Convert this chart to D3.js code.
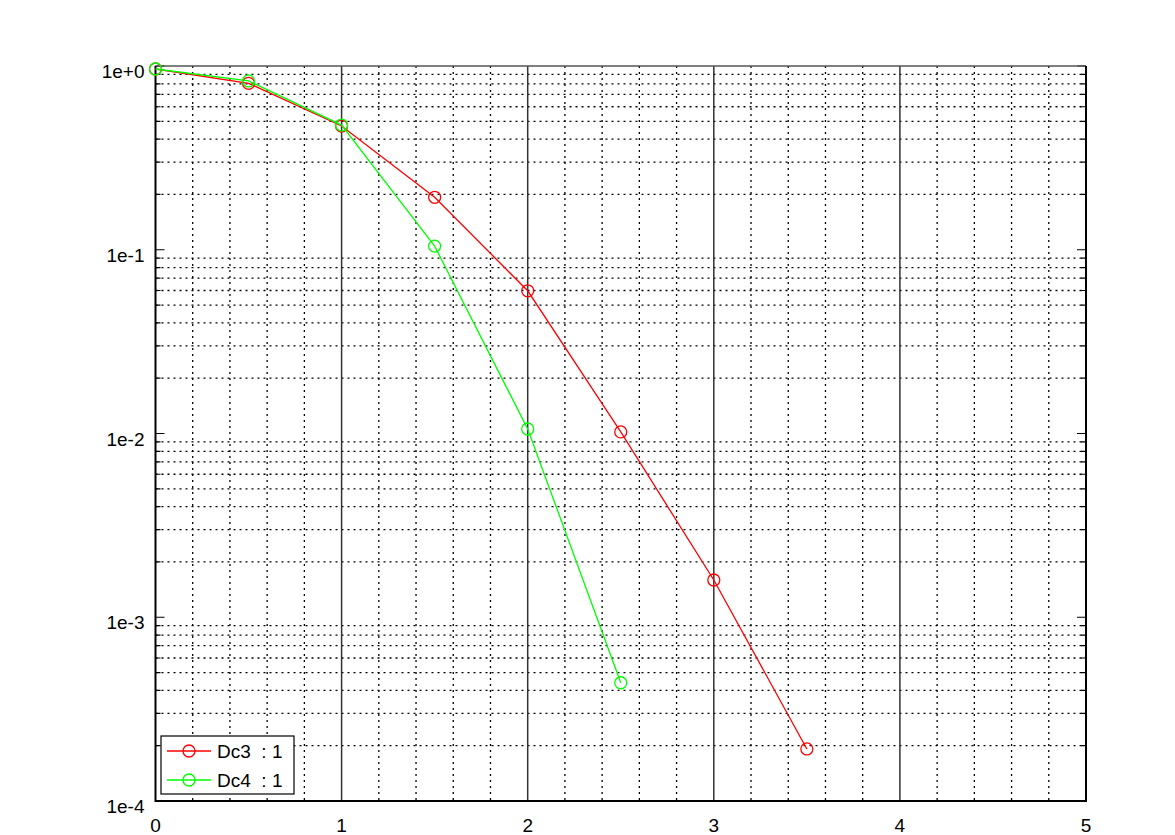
<!DOCTYPE html>
<html>
<head>
<meta charset="utf-8">
<script src="https://cdn.jsdelivr.net/npm/d3@7"></script>
<style>
  body { margin: 0; background: #fff; }
  svg { display: block; }
  text { font-family: "Liberation Sans", Arial, sans-serif; }
</style>
</head>
<body>
<svg></svg>
<script>
const xValues = [0, 0.5, 1, 1.5, 2, 2.5, 3, 3.5];
const dc3 = [0.963, 0.805, 0.4715, 0.193, 0.0598, 0.0102, 0.001595, 0.000192];
const dc4 = [0.963, 0.829, 0.477, 0.1047, 0.01058, 0.00044];
const seriesNames = ["Dc3  : 1", "Dc4  : 1"];
const seriesColors = ["#ff0000", "#00ff00"];
const xTicks = [0, 1, 2, 3, 4, 5];
const yTicks = [1, 1e-1, 1e-2, 1e-3, 1e-4];
const yTickLabels = ["1e+0", "1e-1", "1e-2", "1e-3", "1e-4"];

const W = 1175, H = 835;
const plotLeft = 155.5, plotRight = 1086, plotTop = 66, plotBottom = 801;

const svg = d3.select("svg").attr("width", W).attr("height", H);

const x = d3.scaleLinear().domain([0, 5]).range([plotLeft, plotRight]);
const y = d3.scaleLog().domain([1e-4, 1]).range([plotBottom, plotTop]);

// minor grid values
const xMinor = d3.range(0, 5.0001, 0.2).filter(v => Math.abs(v - Math.round(v)) > 1e-6);
const yMinor = [];
for (let e = -4; e < 0; e++) for (let m = 2; m <= 9; m++) yMinor.push(m * Math.pow(10, e));

const grid = svg.append("g");

grid.selectAll(".ygrid").data(yMinor).enter().append("line")
    .attr("x1", plotLeft).attr("x2", plotRight)
    .attr("y1", d => y(d)).attr("y2", d => y(d))
    .attr("stroke", "#000").attr("stroke-width", 1.3)
    .attr("stroke-dasharray", "2,4");

grid.selectAll(".xgrid").data(xMinor).enter().append("line")
    .attr("x1", d => x(d)).attr("x2", d => x(d))
    .attr("y1", plotTop).attr("y2", plotBottom)
    .attr("stroke", "#000").attr("stroke-width", 1.3)
    .attr("stroke-dasharray", "2,4");

grid.selectAll(".xmajor").data(xTicks.slice(1, -1)).enter().append("line")
    .attr("x1", d => x(d)).attr("x2", d => x(d))
    .attr("y1", plotTop).attr("y2", plotBottom)
    .attr("stroke", "#333").attr("stroke-width", 1.5);

// ticks on left and right
const ticks = svg.append("g").attr("stroke", "#000").attr("stroke-width", 1.2);
ticks.selectAll(".ymin").data(yMinor).enter().append("path")
    .attr("d", d => `M${plotLeft},${y(d)}h5M${plotRight},${y(d)}h-5`);
ticks.selectAll(".ymaj").data(yTicks).enter().append("path")
    .attr("d", d => `M${plotLeft},${y(d)}h9M${plotRight},${y(d)}h-9`);

// frame
svg.append("line").attr("x1", plotLeft).attr("x2", plotRight).attr("y1", plotTop).attr("y2", plotTop)
    .attr("stroke", "#555").attr("stroke-width", 1.5);
svg.append("path")
    .attr("d", `M${plotLeft},${plotTop}V${plotBottom}H${plotRight}V${plotTop}`)
    .attr("fill", "none").attr("stroke", "#000").attr("stroke-width", 2);

// tick labels
svg.selectAll(".ylab").data(yTicks).enter().append("text")
    .attr("x", plotLeft - 11).attr("y", (d) => y(d) + 12)
    .attr("text-anchor", "end").attr("font-size", 19)
    .text((d, i) => yTickLabels[i]);

svg.selectAll(".xlab").data(xTicks).enter().append("text")
    .attr("x", d => x(d)).attr("y", 832)
    .attr("text-anchor", "middle").attr("font-size", 19)
    .text(d => d);

// series
const series = [dc3, dc4];
const line = d3.line().x((d, i) => x(xValues[i])).y(d => y(d));

series.forEach(function(s, k) {
  svg.append("path").datum(s)
      .attr("d", line)
      .attr("fill", "none").attr("stroke", seriesColors[k]).attr("stroke-width", 1.3);
  svg.selectAll(".pt" + k).data(s).enter().append("circle")
      .attr("cx", (d, i) => x(xValues[i])).attr("cy", d => y(d))
      .attr("r", 6).attr("fill", "none")
      .attr("stroke", seriesColors[k]).attr("stroke-width", 1.3);
});

// legend
const legend = svg.append("g").attr("transform", "translate(161,736)");
legend.append("rect").attr("width", 133).attr("height", 58)
    .attr("fill", "#fff").attr("stroke", "#000").attr("stroke-width", 1.2);
seriesNames.forEach(function(name, k) {
  const ly = 15 + k * 29;
  legend.append("line").attr("x1", 6).attr("x2", 50).attr("y1", ly).attr("y2", ly)
      .attr("stroke", seriesColors[k]).attr("stroke-width", 1.3);
  legend.append("circle").attr("cx", 28).attr("cy", ly).attr("r", 6)
      .attr("fill", "none").attr("stroke", seriesColors[k]).attr("stroke-width", 1.3);
  legend.append("text").attr("x", 56).attr("y", ly + 7)
      .attr("font-size", 19).style("white-space", "pre")
      .text(name);
});
</script>
</body>
</html>
